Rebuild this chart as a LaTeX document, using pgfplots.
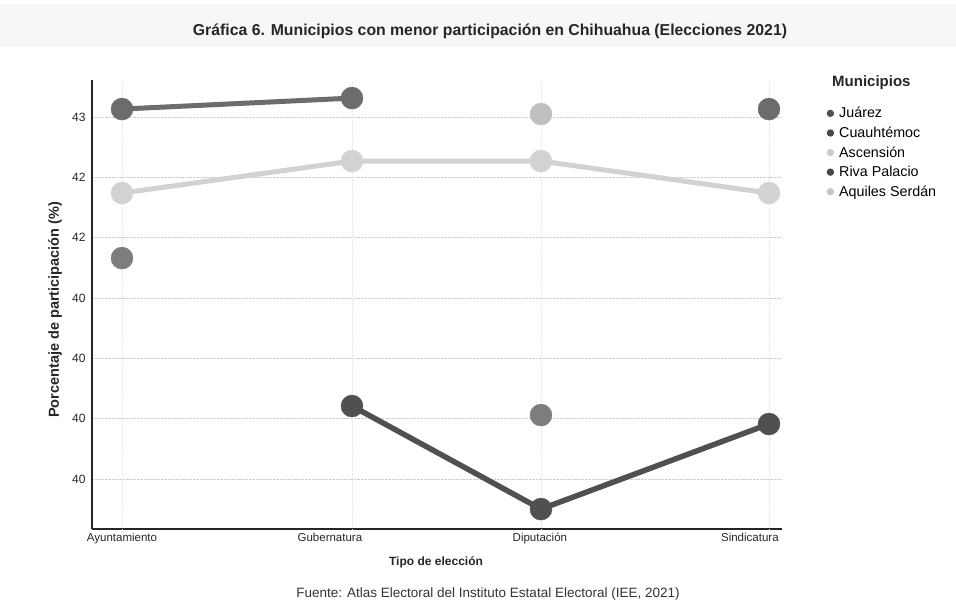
\documentclass[border=0pt]{standalone}
\usepackage{pgfplots}
\pgfplotsset{compat=1.18}
\usepackage{fontspec}
\setmainfont{Liberation Sans}
\definecolor{cjua}{RGB}{80,80,80}
\definecolor{ccua}{RGB}{108,108,108}
\definecolor{casc}{RGB}{210,210,210}
\definecolor{criva}{RGB}{125,125,125}
\definecolor{caq}{RGB}{192,192,192}
\begin{document}
\begin{tikzpicture}
\path[use as bounding box] (-92pt,-75pt) rectangle (864pt,529pt);
\fill[gray!6] (-92pt,482pt) rectangle (864pt,525pt);
\node[font=\fontsize{15.8}{18}\selectfont\bfseries, text=black!85] at (398pt,498pt) {Gráfica 6. Municipios con menor participación en Chihuahua (Elecciones 2021)};
\node[font=\fontsize{13.5}{16}\selectfont, text=black!80] at (396pt,-65pt) {Fuente: Atlas Electoral del Instituto Estatal Electoral (IEE, 2021)};
\node[font=\fontsize{15}{17}\selectfont\bfseries, text=black!85, anchor=west, inner sep=0pt] at (740pt,446pt) {Municipios};
\begin{axis}[
  at={(0pt,0pt)}, anchor=south west,
  scale only axis, width=690pt, height=449pt,
  xmin=-0.1304, xmax=2.8696, ymin=39.586, ymax=43.307,
  axis x line*=bottom, axis y line*=left,
  axis line style={line width=1.6pt, black!85, -},
  xtick={0,0.904,1.817,2.730},
  xticklabels={Ayuntamiento,Gubernatura,Diputación,Sindicatura},
  extra x ticks={0,1,1.8217,2.813},
  extra x tick labels={},
  extra x tick style={grid=major, major x grid style={densely dotted, gray!18, line width=0.8pt}},
  ytick={40,40.5,41,41.5,42,42.5,43},
  yticklabels={40,40,40,40,42,42,43},
  /pgf/number format/assume math mode=true,
  tick style={draw=none},
  xticklabel style={font=\fontsize{11.5}{13}\selectfont, text=black!85, yshift=-1pt},
  yticklabel style={font=\fontsize{12}{14}\selectfont, text=black!85, xshift=-3pt},
  ymajorgrids,
  major y grid style={densely dotted, gray!40, line width=0.9pt},
  xlabel={Tipo de elección},
  ylabel={Porcentaje de participación (\%)},
  every axis x label/.style={at={(axis description cs:0.4986,-0.0735)}, anchor=center, font=\fontsize{12}{14}\selectfont\bfseries, text=black!85},
  every axis y label/.style={at={(axis description cs:-0.0536,0.488)}, rotate=90, anchor=center, font=\fontsize{14.5}{16}\selectfont\bfseries, text=black!85},
  unbounded coords=jump,
  clip=false,
  legend style={at={(axis description cs:1.0645,0.944)}, anchor=north west, draw=none, fill=none,
    font=\fontsize{14.3}{16}\selectfont, row sep=3.6pt, inner sep=0pt},
  legend cell align=left,
]
\addplot[color=cjua, line width=5.5pt, mark=*, mark size=11pt, mark options={line width=0.4pt},
  legend image code/.code={\path[draw=none] (0pt,0pt) -- (10.5pt,0pt); \fill[cjua, draw=none] (3.7pt,0pt) circle (3.7pt);}]
  coordinates {(0,nan) (1,40.605) (1.8217,39.751) (2.813,40.456)};
\addlegendentry{Juárez}
\addplot[color=ccua, line width=5pt, mark=*, mark size=11pt, mark options={line width=0.4pt},
  legend image code/.code={\path[draw=none] (0pt,0pt) -- (10.5pt,0pt); \fill[cjua!90!black, draw=none] (3.7pt,0pt) circle (3.7pt);}]
  coordinates {(0,43.066) (1,43.157) (1.8217,nan) (2.813,43.066)};
\addlegendentry{Cuauhtémoc}
\addplot[color=casc, line width=5pt, mark=*, mark size=11pt, mark options={line width=0.4pt},
  legend image code/.code={\path[draw=none] (0pt,0pt) -- (10.5pt,0pt); \fill[gray!40, draw=none] (3.7pt,0pt) circle (3.7pt);}]
  coordinates {(0,42.370) (1,42.635) (1.8217,42.635) (2.813,42.370)};
\addlegendentry{Ascensión}
\addplot[color=criva, line width=5pt, mark=*, mark size=11pt, mark options={line width=0.4pt},
  legend image code/.code={\path[draw=none] (0pt,0pt) -- (10.5pt,0pt); \fill[cjua!90!black, draw=none] (3.7pt,0pt) circle (3.7pt);}]
  coordinates {(0,41.831) (1,nan) (1.8217,40.530) (2.813,nan)};
\addlegendentry{Riva Palacio}
\addplot[color=caq, line width=5pt, mark=*, mark size=11pt, mark options={line width=0.4pt},
  legend image code/.code={\path[draw=none] (0pt,0pt) -- (10.5pt,0pt); \fill[gray!45, draw=none] (3.7pt,0pt) circle (3.7pt);}]
  coordinates {(0,nan) (1,nan) (1.8217,43.025) (2.813,nan)};
\addlegendentry{Aquiles Serdán}
\end{axis}
\end{tikzpicture}
\end{document}
